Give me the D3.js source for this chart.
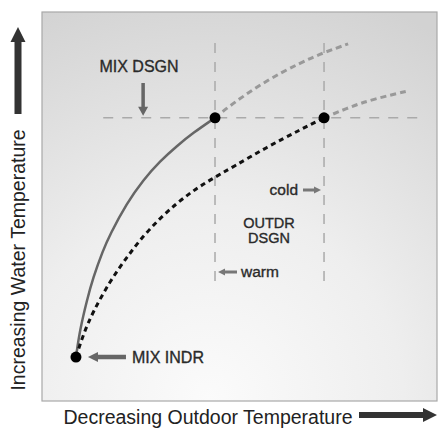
<!DOCTYPE html>
<html>
<head>
<meta charset="utf-8">
<script src="https://d3js.org/d3.v7.min.js"></script>
<style>
  body { margin: 0; background: #fff; }
  text { font-family: "Liberation Sans", Arial, sans-serif; }
</style>
</head>
<body>
<div id="chart"></div>
<script>
// abstract units: x = decreasing outdoor temp (0-100), y = water temp (0-100)
var mixCurve = [[8.6,11.3],[9.6,18.3],[11.4,26],[12.9,31.6],[15.4,38.6],[17.2,42.8],[21.5,50.9],[25.6,56.8],[29.9,61.7],[34.2,65.6],[38.2,68.9],[43.8,72.8]];
var mixExtension = [[43.8,72.8],[48.4,76.6],[57,82.5],[65.3,86.9],[71.1,89.5],[77.5,91.8]];
var outdrCurve = [[8.6,11.3],[10.6,17.5],[12.9,22.9],[17.2,30.8],[21.5,37],[25.6,42.4],[29.9,47],[34.2,50.9],[38.2,54],[42.5,56.8],[48.4,60.2],[57,65.3],[65.3,69.7],[71.4,72.8]];
var outdrExtension = [[71.4,72.8],[78,75.6],[83.8,77.6],[92.7,79.7]];
var points = [[8.6,11.3],[43.8,72.8],[71.4,72.8]];
var mixDesign = 72.8;          // horizontal guide
var hRange = [15.5, 96];
var outdrWarm = 43.8, outdrCold = 71.4;  // vertical guides
var vRange = [30.8, 92];

var W = 438, H = 432;
var box = {left: 42, top: 12, right: 437, bottom: 401};

var svg = d3.select('#chart').append('svg')
  .attr('width', W).attr('height', H);

var defs = svg.append('defs');
var grad = defs.append('radialGradient')
  .attr('id', 'bg').attr('gradientUnits', 'userSpaceOnUse')
  .attr('cx', 210).attr('cy', 400).attr('r', 430);
grad.append('stop').attr('offset', '0%').attr('stop-color', '#fbfbfb');
grad.append('stop').attr('offset', '45%').attr('stop-color', '#eeeeee');
grad.append('stop').attr('offset', '100%').attr('stop-color', '#d2d2d2');

var x = d3.scaleLinear().domain([0, 100]).range([box.left, box.right]);
var y = d3.scaleLinear().domain([0, 100]).range([box.bottom, box.top]);

svg.append('rect')
  .attr('x', box.left).attr('y', box.top)
  .attr('width', box.right - box.left).attr('height', box.bottom - box.top)
  .attr('fill', 'url(#bg)')
  .attr('stroke', '#a8a8a8').attr('stroke-width', 1.2);

// guides
svg.append('line')
  .attr('x1', x(hRange[0])).attr('x2', x(hRange[1]))
  .attr('y1', y(mixDesign)).attr('y2', y(mixDesign))
  .attr('stroke', '#aaa').attr('stroke-width', 1.5)
  .attr('stroke-dasharray', '10,9');
[outdrWarm, outdrCold].forEach(function(v) {
  svg.append('line')
    .attr('x1', x(v)).attr('x2', x(v))
    .attr('y1', y(vRange[1])).attr('y2', y(vRange[0]))
    .attr('stroke', '#aaa').attr('stroke-width', 1.5)
    .attr('stroke-dasharray', '10,9');
});

var line = d3.line().x(d => x(d[0])).y(d => y(d[1])).curve(d3.curveBasis);

svg.append('path').attr('d', line(mixExtension))
  .attr('fill', 'none').attr('stroke', '#999').attr('stroke-width', 3)
  .attr('stroke-dasharray', '6,4');
svg.append('path').attr('d', line(outdrExtension))
  .attr('fill', 'none').attr('stroke', '#999').attr('stroke-width', 3)
  .attr('stroke-dasharray', '6,4');
svg.append('path').attr('d', line(mixCurve))
  .attr('fill', 'none').attr('stroke', '#666').attr('stroke-width', 2.5);
svg.append('path').attr('d', line(outdrCurve))
  .attr('fill', 'none').attr('stroke', '#111').attr('stroke-width', 3)
  .attr('stroke-dasharray', '5,4');

svg.selectAll('.pt').data(points).enter().append('circle')
  .attr('class', 'pt')
  .attr('cx', d => x(d[0])).attr('cy', d => y(d[1]))
  .attr('r', 5.5).attr('fill', '#000');

// block arrow from (x1,y1) to tip (x2,y2)
function arrow(x1, y1, x2, y2, sw, hw, hl, col) {
  var ang = Math.atan2(y2 - y1, x2 - x1);
  var len = Math.hypot(x2 - x1, y2 - y1);
  var g = svg.append('g')
    .attr('transform', `translate(${x1},${y1}) rotate(${ang * 180 / Math.PI})`);
  g.append('path')
    .attr('d', `M0,${-sw/2} L${len-hl},${-sw/2} L${len-hl},${-hw/2} L${len},0 L${len-hl},${hw/2} L${len-hl},${sw/2} L0,${sw/2} Z`)
    .attr('fill', col);
}

function label(tx, ty, txt, size, anchor) {
  return svg.append('text').attr('x', tx).attr('y', ty)
    .attr('text-anchor', anchor || 'start').attr('font-size', size)
    .attr('fill', '#2a2a2a').attr('stroke', '#2a2a2a').attr('stroke-width', 0.35)
    .text(txt);
}

// annotations
var mdx = x(25.6);
label(139, 72, 'MIX DSGN', 16, 'middle');
arrow(mdx, 83, mdx, y(mixDesign) - 2, 3.5, 10, 9, '#666');

var p0 = points[0];
arrow(x(p0[0]) + 50, y(p0[1]), x(p0[0]) + 12, y(p0[1]), 4.5, 10, 10, '#666');
label(x(p0[0]) + 56, y(p0[1]) + 6, 'MIX INDR', 16);

label(298, 195, 'cold', 15.5, 'end');
arrow(303, 190, x(outdrCold) - 3, 190, 3, 7, 7, '#777');

label(269, 227.5, 'OUTDR', 14.5, 'middle');
label(269, 243, 'DSGN', 14.5, 'middle');

arrow(237, 272, x(outdrWarm) + 3, 272, 3, 7, 7, '#777');
label(241, 277, 'warm', 15.5);

// axis titles
svg.append('text')
  .attr('transform', 'translate(25,260) rotate(-90)')
  .attr('text-anchor', 'middle').attr('font-size', 19.5).attr('fill', '#222')
  .text('Increasing Water Temperature');
arrow(18, 114, 18, 27, 7, 15, 15, '#333');

svg.append('text').attr('x', 208).attr('y', 424)
  .attr('text-anchor', 'middle').attr('font-size', 19.5).attr('fill', '#222')
  .text('Decreasing Outdoor Temperature');
arrow(359, 415, 437, 415, 6, 14, 14, '#333');
</script>
</body>
</html>
